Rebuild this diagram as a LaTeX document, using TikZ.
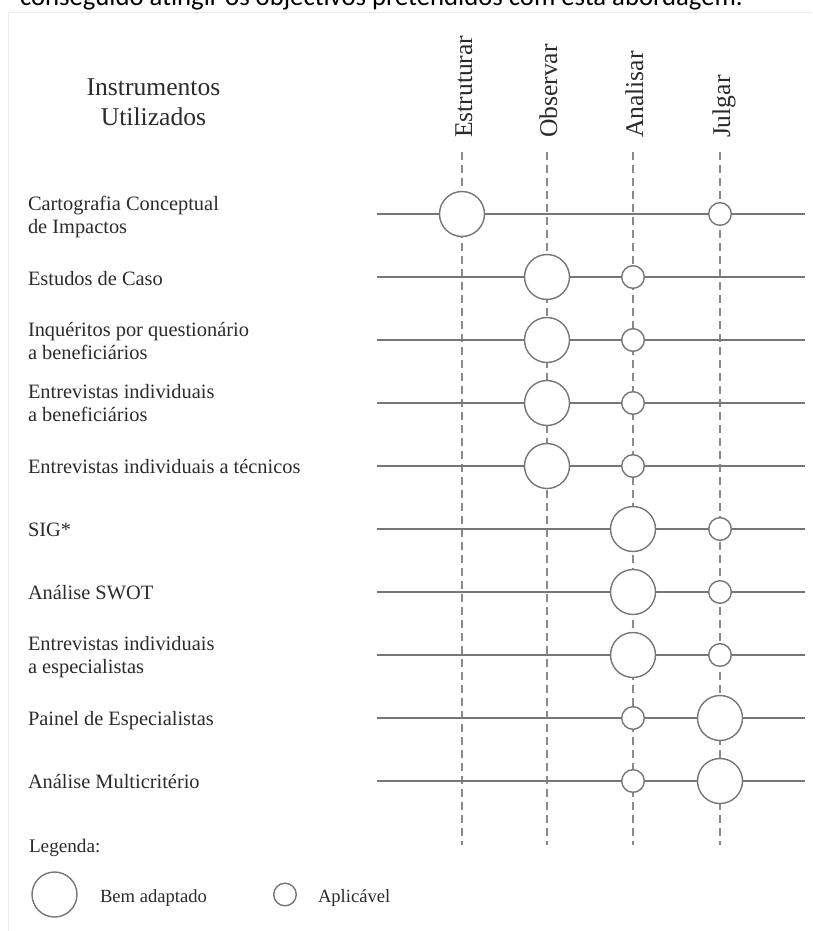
\documentclass[tikz,border=0pt]{standalone}
\usepackage{fontspec}
\setmainfont{Liberation Serif}
\newfontfamily\bodyfont{Carlito}
\definecolor{txt}{HTML}{2B2B2B}
\definecolor{lineg}{HTML}{767676}
\definecolor{guideg}{HTML}{8A8A8A}
\definecolor{frameg}{HTML}{EBEBEB}
\begin{document}
\begin{tikzpicture}[x=1pt,y=-1pt,
  every node/.style={inner sep=0pt, outer sep=0pt, text=txt},
  rowlabel/.style={anchor=base west, align=left, font=\fontsize{20.4}{23}\selectfont},
  colhead/.style={anchor=base west, rotate=90, font=\fontsize{25.6}{30}\selectfont},
  guide/.style={draw=guideg, line width=1.4pt, dash pattern=on 8pt off 5pt},
  rowline/.style={draw=lineg, line width=1.4pt},
  big/.style={circle, draw=lineg, fill=white, line width=1.4pt, minimum size=45pt},
  small/.style={circle, draw=lineg, fill=white, line width=1.4pt, minimum size=22.6pt},
  legendtext/.style={anchor=base west, font=\fontsize{18.6}{22}\selectfont},
]
\useasboundingbox (0,0) rectangle (812,931);
\clip (0,0) rectangle (812,931);

% running text of the page above the figure
\node[anchor=base west, font=\bodyfont\fontsize{26.7}{30}\selectfont, text=black]
  (runtext) at (20,5.5) {conseguido atingir os objectivos pretendidos com esta abordagem.};

% faint frame of the figure
\coordinate (fr-tl) at (8,13);
\coordinate (fr-tr) at (812,13);
\coordinate (fr-bl) at (8,931);
\draw[frameg, line width=1pt] (fr-bl) -- (fr-tl) -- (fr-tr);

% header of the instrument column
\node[anchor=base, align=center, font=\fontsize{25.6}{30}\selectfont]
  (inst) at (153.5,125) {Instrumentos\\Utilizados};

% stage columns: dashed guides and rotated headers
\foreach \n/\x/\t in {est/462/Estruturar, obs/547/Observar, ana/633/Analisar, jul/720/Julgar} {
  \coordinate (\n-top) at (\x,152);
  \coordinate (\n-bot) at (\x,845);
  \draw[guide] (\n-top) -- (\n-bot);
  \node[colhead] (h-\n) at (\x+10,138) {\t};
}

% instrument rows
\foreach \k/\y in {1/214, 2/277, 3/340, 4/403, 5/466, 6/529, 7/592, 8/655, 9/718, 10/781} {
  \coordinate (r\k-a) at (377,\y);
  \coordinate (r\k-b) at (805,\y);
  \draw[rowline] (r\k-a) -- (r\k-b);
}

% row labels
\node[rowlabel] (l1) at (28,233) {Cartografia Conceptual\\de Impactos};
\node[rowlabel] (l2) at (28,285) {Estudos de Caso};
\node[rowlabel] (l3) at (28,359) {Inquéritos por questionário\\a beneficiários};
\node[rowlabel] (l4) at (28,421) {Entrevistas individuais\\a beneficiários};
\node[rowlabel] (l5) at (28,473) {Entrevistas individuais a técnicos};
\node[rowlabel] (l6) at (28,536) {SIG*};
\node[rowlabel] (l7) at (28,599) {Análise SWOT};
\node[rowlabel] (l8) at (28,673) {Entrevistas individuais\\a especialistas};
\node[rowlabel] (l9) at (28,725) {Painel de Especialistas};
\node[rowlabel] (l10) at (28,788) {Análise Multicritério};

% suitability marks
\node[big]   (m1a)  at (462,214) {};
\node[small] (m1b)  at (720,214) {};
\node[big]   (m2a)  at (547,277) {};
\node[small] (m2b)  at (633,277) {};
\node[big]   (m3a)  at (547,340) {};
\node[small] (m3b)  at (633,340) {};
\node[big]   (m4a)  at (547,403) {};
\node[small] (m4b)  at (633,403) {};
\node[big]   (m5a)  at (547,466) {};
\node[small] (m5b)  at (633,466) {};
\node[big]   (m6a)  at (633,529) {};
\node[small] (m6b)  at (720,529) {};
\node[big]   (m7a)  at (633,592) {};
\node[small] (m7b)  at (720,592) {};
\node[big]   (m8a)  at (633,655) {};
\node[small] (m8b)  at (720,655) {};
\node[small] (m9a)  at (633,718) {};
\node[big]   (m9b)  at (720,718) {};
\node[small] (m10a) at (633,781) {};
\node[big]   (m10b) at (720,781) {};

% legend
\node[anchor=base west, font=\fontsize{19.2}{22}\selectfont] (leg) at (29,852) {Legenda:};
\node[big]   (leg-big)   at (54.5,894.5) {};
\node[legendtext] (leg-bt) at (100,902) {Bem adaptado};
\node[small] (leg-small) at (285,894.5) {};
\node[legendtext] (leg-st) at (318,902) {Aplicável};
\end{tikzpicture}
\end{document}
